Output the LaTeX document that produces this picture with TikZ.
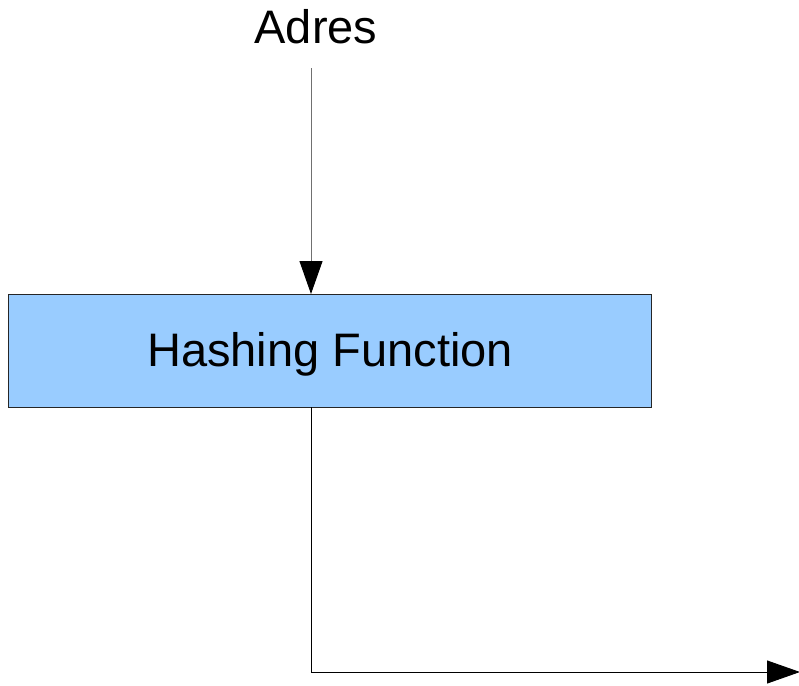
\documentclass[tikz,border=0pt]{standalone}
\usepackage{fontspec}
\setmainfont{Liberation Sans}
\usetikzlibrary{arrows.meta}
\definecolor{boxblue}{HTML}{99CCFF}
\definecolor{edgegray}{HTML}{707070}
\tikzset{
  label text/.style={font=\fontsize{47}{56}\selectfont, inner sep=0pt},
  hashbox/.style={draw=black!85, line width=1pt, fill=boxblue},
  flow/.style={line width=1pt, -{Triangle[length=33pt, width=23pt, color=black]}}
}
\begin{document}
\begin{tikzpicture}[x=1pt, y=-1pt]
  \useasboundingbox (0,0) rectangle (799,685);
  % input label and the start of its arrow
  \node[label text, anchor=base] (adres) at (316,44) {Adres};
  \coordinate (inTop) at (311,68);
  % the hashing block
  \path[hashbox] (8,294) rectangle (651,407) coordinate (boxSE);
  \coordinate (boxNW) at (8,294);
  \node[label text, anchor=base] (hash) at (330,366) {Hashing Function};
  % output path: down from the block, then to the right
  \coordinate (turn) at (311,672);
  \coordinate (outEnd) at (800,672);
  \draw[flow, draw=edgegray] (inTop) -- (inTop |- boxNW);
  \draw[flow] (turn |- boxSE) -- (turn) -- (outEnd);
\end{tikzpicture}
\end{document}
